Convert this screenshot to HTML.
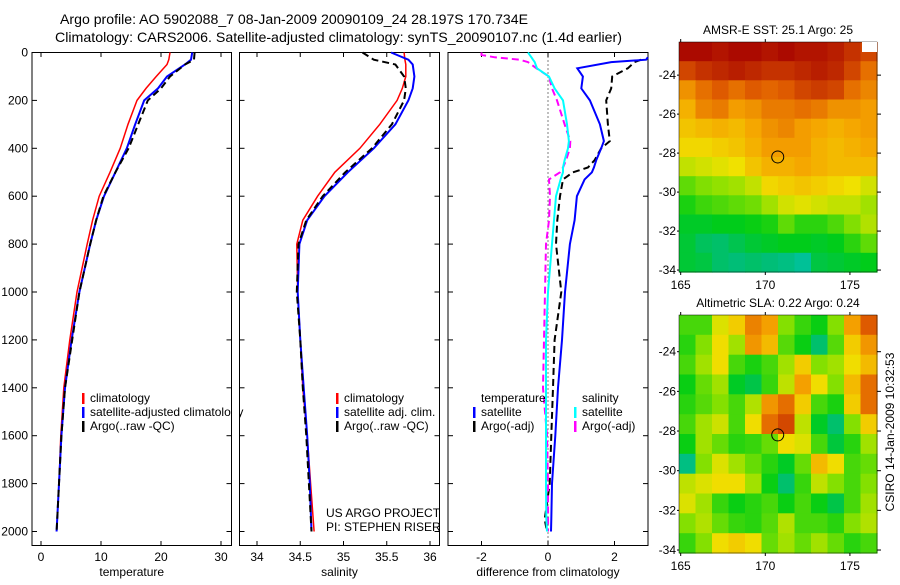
<!DOCTYPE html>
<html><head><meta charset="utf-8"><style>
body{margin:0;background:#fff;}
svg text{font-family:"Liberation Sans",sans-serif;fill:#000;}
</style></head><body>
<svg id="c" width="900" height="580" xmlns="http://www.w3.org/2000/svg">
<text x="60" y="24" font-size="13.5" textLength="468" lengthAdjust="spacingAndGlyphs">Argo profile: AO 5902088_7 08-Jan-2009 20090109_24 28.197S 170.734E</text>
<text x="55" y="42" font-size="14" textLength="567" lengthAdjust="spacingAndGlyphs">Climatology: CARS2006. Satellite-adjusted climatology: synTS_20090107.nc (1.4d earlier)</text>
</svg>
<script>
// ---- profile data ----
const tDepth = [0,30,50,100,150,200,300,400,500,600,700,800,1000,1200,1400,1600,1800,2000];
const tClim  = [21.5,21.3,21,19.2,17.5,16,14.5,13.2,11.5,9.7,8.6,7.7,6,4.8,3.8,3.3,3.0,2.6];
const tSat   = [25.2,25,24,21,19.5,17.2,15.7,14.3,12.4,10.5,9.2,8.2,6.4,5.1,4.0,3.4,3.0,2.6];
const tArgo  = [25.6,25.5,24,21.5,20,17.8,16.2,14.6,12.4,10.4,9.2,8.2,6.4,5.2,4.0,3.4,3.0,2.6];
const sClim  = [35.70,35.71,35.72,35.72,35.68,35.62,35.42,35.19,34.9,34.7,34.53,34.46,34.47,34.5,34.53,34.58,34.62,34.66];
const sSat   = [35.55,35.75,35.8,35.82,35.8,35.75,35.6,35.35,35.05,34.78,34.58,34.49,34.47,34.5,34.54,34.58,34.61,34.63];
const sArgo  = [35.22,35.35,35.6,35.7,35.72,35.7,35.56,35.33,35.02,34.76,34.57,34.48,34.46,34.5,34.53,34.57,34.6,34.63];
const dDepth = [0,10,20,30,40,66,100,150,200,300,370,400,450,480,500,530,600,700,800,1000,1200,1400,1600,1800,1950,2000];
const dTSat  = [null,null,3.0,2.95,1.9,0.88,1.05,1.0,1.26,1.56,1.68,1.6,1.45,1.38,1.32,1.1,0.87,0.8,0.66,0.51,0.42,0.3,0.22,0.12,0.1,0.09];
const dTArgo = [null,null,null,2.8,2.6,2.4,1.93,1.9,1.75,1.8,1.86,1.6,1.4,1.2,0.75,0.45,0.36,0.28,0.24,0.4,0.2,0.15,0.1,0.05,-0.1,-0.03];
const dSSat  = [-0.6,-0.55,-0.5,-0.45,-0.4,-0.33,0.03,0.2,0.45,0.57,0.63,0.6,0.5,0.45,0.45,0.38,0.24,0.18,0.12,0.0,-0.06,-0.06,-0.06,-0.06,-0.05,-0.03];
const dSArgo = [-2,-2,-1.6,-0.85,-0.6,-0.35,0.03,0.12,0.27,0.5,0.67,0.66,0.54,0.45,0.36,0.03,0.06,0.03,-0.06,-0.09,-0.12,-0.15,-0.03,0.0,0.0,0.0];
const depthTicks = [0,200,400,600,800,1000,1200,1400,1600,1800,2000];
const tempTicks = [0,10,20,30];
const salTicks = [34,34.5,35,35.5,36];
const diffTicks = [-2,0,2];
// ---- map data (rows lat 22.3->34.1, cols lon 165->176.6) ----
const sstGrid = [
[26.6,26.6,26.5,26.6,26.6,26.5,26.6,26.5,26.5,26.4,26.2,26.0],
[26.0,26.2,26.3,26.4,26.3,26.2,26.2,26.3,26.4,26.3,26.0,25.6],
[25.3,25.6,25.8,25.6,25.8,25.7,25.8,26.0,26.1,26.0,25.6,25.4],
[25.0,25.4,25.5,25.2,25.3,25.5,25.5,25.6,25.5,25.3,25.3,25.2],
[24.8,24.9,25.0,24.9,25.1,25.3,25.4,25.2,25.1,25.0,25.1,25.2],
[24.6,24.6,24.7,24.8,25.0,25.2,25.2,25.2,25.0,24.9,25.0,25.1],
[24.2,24.3,24.4,24.5,24.8,25.0,25.0,25.1,25.0,24.9,24.9,24.9],
[23.6,23.8,23.9,24.0,24.2,24.6,24.7,24.8,24.7,24.6,24.5,24.3],
[23.2,23.4,23.5,23.6,23.7,24.0,24.3,24.4,24.3,24.2,24.2,24.0],
[22.9,22.9,23.0,23.0,23.1,23.2,23.6,23.3,23.3,23.5,23.8,24.1],
[22.8,22.5,22.4,22.6,22.8,22.9,23.0,23.0,22.9,23.0,23.3,23.6],
[22.8,22.7,22.4,22.3,22.4,22.3,22.2,22.0,22.7,22.8,22.9,23.0]];
const slaGrid = [
[0.06,0.06,0.16,0.20,0.28,0.25,0.10,0.05,0.02,0.10,0.25,0.32],
[0.04,0.10,0.18,0.12,0.26,0.22,0.07,0.02,-0.06,0.07,0.20,0.26],
[0.06,0.12,0.18,0.06,0.03,0.06,0.12,0.20,0.10,0.12,0.18,0.22],
[0.02,0.08,0.12,0.00,-0.03,0.05,0.14,0.25,0.18,0.10,0.22,0.30],
[0.04,0.07,0.10,0.06,0.13,0.26,0.30,0.20,0.06,0.03,0.20,0.30],
[0.06,0.12,0.15,0.06,0.18,0.30,0.34,0.14,0.00,-0.06,0.10,0.20],
[0.02,0.12,0.08,0.04,0.05,0.08,0.18,0.16,0.06,-0.02,0.04,0.12],
[-0.08,0.10,0.16,0.12,0.08,0.04,0.00,0.08,0.22,0.18,0.06,0.08],
[0.14,0.16,0.18,0.18,0.12,0.02,-0.06,0.05,0.14,0.10,0.06,0.10],
[0.16,0.12,0.05,0.02,0.04,0.06,0.02,0.06,0.02,-0.03,0.06,0.12],
[0.10,0.13,0.08,0.05,0.04,0.07,0.13,0.06,0.06,0.04,0.10,0.13],
[0.05,0.10,0.18,0.20,0.18,0.08,0.12,0.08,0.12,0.08,0.04,0.06]];
const latTicks = [24,26,28,30,32,34];
const lonTicks = [165,170,175];
const argoLon = 170.734, argoLat = 28.197;

const NS="http://www.w3.org/2000/svg", svg=document.getElementById('c');
function el(tag,attrs,parent){const e=document.createElementNS(NS,tag);for(const k in attrs)e.setAttribute(k,attrs[k]);(parent||svg).appendChild(e);return e;}
function lin(d0,d1,r0,r1){return v=>r0+(v-d0)*(r1-r0)/(d1-d0);}
const yD = lin(0,2000,52.5,531.5);

function panel(name,x0,x1,xs,ticks,label,showY){
  const g=el('g',{});
  
  
  const fr=el('rect',{x:x0,y:52.5,width:x1-x0,height:493,fill:'none',stroke:'#000','stroke-width':1},g);
  
  
  ticks.forEach(t=>{const x=xs(t);
    el('line',{x1:x,x2:x,y1:52.5,y2:57,stroke:'#000'},g);
    el('line',{x1:x,x2:x,y1:545.5,y2:541,stroke:'#000'},g);
    const tx=el('text',{x:x,y:561,'font-size':12,'text-anchor':'middle'},g);tx.textContent=t;
    
    
  });
  depthTicks.forEach(d=>{const y=yD(d);
    el('line',{x1:x0,x2:x0+5,y1:y,y2:y,stroke:'#000'},g);
    el('line',{x1:x1,x2:x1-5,y1:y,y2:y,stroke:'#000'},g);
    if(showY){const tx=el('text',{x:x0-4,y:y+4,'font-size':12,'text-anchor':'end'},g);tx.textContent=d;
      
      }
  });
  const xl=el('text',{x:(x0+x1)/2,y:576,'font-size':12,'text-anchor':'middle'},g);xl.textContent=label;
  
  
  return g;
}
function series(name,vals,depths,xs,color,w,dash){
  let d='',pen=false;
  vals.forEach((v,i)=>{if(v===null){pen=false;return;}d+=(pen?'L':'M')+xs(v).toFixed(1)+','+yD(depths[i]).toFixed(1);pen=true;});
  const p=el('path',{d:d,fill:'none',stroke:color,'stroke-width':w,'stroke-dasharray':dash||'none'});
  
  
}
function legend(name,x,y,color,text){
  const r=el('rect',{x:x,y:y-9,width:2.5,height:11,fill:color});
  
  
  const t=el('text',{x:x+8,y:y,'font-size':12});t.textContent=text;
  
  
}
function txt(name,x,y,s,fs,extra){const t=el('text',Object.assign({x:x,y:y,'font-size':fs||12},extra||{}));t.textContent=s;
  
  return t;}

// Panel 1 temperature
const xT=lin(0,10,41,101);
panel('temperature',32,231.5,xT,tempTicks,'temperature',true);
series('temp-climatology-line',tClim,tDepth,xT,'#f00',1.5);
series('temp-satellite-line',tSat,tDepth,xT,'#00f',2);
series('temp-argo-line',tArgo,tDepth,xT,'#000',2,'7,4');
legend('legend-climatology',82,402,'#f00','climatology');
legend('legend-satellite-adjusted',82,416,'#00f','satellite-adjusted climatology');
legend('legend-argo-raw',82,430,'#000','Argo(..raw -QC)');

// Panel 2 salinity
const xS=lin(34,36,257,430);
panel('salinity',239.5,439.5,xS,salTicks,'salinity',false);
el('rect',{x:232,y:405,width:7,height:15,fill:'#fff'});
series('sal-climatology-line',sClim,tDepth,xS,'#f00',1.5);
series('sal-satellite-line',sSat,tDepth,xS,'#00f',2);
series('sal-argo-line',sArgo,tDepth,xS,'#000',2,'7,4');
legend('legend-sal-climatology',336,402,'#f00','climatology');
legend('legend-sal-satellite',336,416,'#00f','satellite adj. clim.');
legend('legend-sal-argo',336,430,'#000','Argo(..raw -QC)');
txt('project-label',326,517,'US ARGO PROJECT');
txt('pi-label',326,531,'PI: STEPHEN RISER');

// Panel 3 difference
const xDf=lin(-2,2,481.5,614.5);
panel('difference',448,648,xDf,diffTicks,'difference from climatology',false);
const zl=el('line',{x1:xDf(0),x2:xDf(0),y1:52.5,y2:545,stroke:'#000','stroke-dasharray':'1,3'});


series('diff-temp-argo-line',dTArgo,dDepth,xDf,'#000',2,'7,4');
series('diff-temp-satellite-line',dTSat,dDepth,xDf,'#00f',2);
series('diff-sal-argo-line',dSArgo,dDepth,xDf,'#f0f',2,'7,4');
series('diff-sal-satellite-line',dSSat,dDepth,xDf,'#0ff',2);
txt('legend-temperature-header',481,402,'temperature');
txt('legend-salinity-header',582,402,'salinity');
legend('legend-diff-temp-satellite',473,416,'#00f','satellite');
legend('legend-diff-temp-argo',473,430,'#000','Argo(-adj)');
legend('legend-diff-sal-satellite',574,416,'#0ff','satellite');
legend('legend-diff-sal-argo',574,430,'#f0f','Argo(-adj)');

// colormap (t in 0..1)
const cmapStops=[[0,[0,80,255]],[0.15,[0,200,220]],[0.3,[0,190,120]],[0.42,[0,205,20]],[0.55,[140,225,0]],[0.65,[240,225,0]],[0.75,[245,165,0]],[0.85,[225,95,0]],[1,[165,0,0]]];
function cmap(t){t=Math.max(0,Math.min(1,t));
  for(let i=1;i<cmapStops.length;i++){if(t<=cmapStops[i][0]){const a=cmapStops[i-1],b=cmapStops[i],f=(t-a[0])/(b[0]-a[0]);
    return 'rgb('+a[1].map((c,k)=>Math.round(c+(b[1][k]-c)*f)).join(',')+')';}}
  return 'rgb(165,0,0)';}

function map(name,grid,vmin,vmax,x0,x1,y0,y1,lat0,lat1,title){
  const xs=lin(164.9,176.6,x0,x1), ys=lin(lat0,lat1,y0,y1);
  const rows=grid.length, cols=grid[0].length;
  const dLat=(lat1-lat0)/rows, dLon=(176.6-164.9)/cols;
  grid.forEach((row,i)=>row.forEach((v,j)=>{
    const xa=xs(164.9+j*dLon), ya=ys(lat0+i*dLat);
    const c=el('rect',{x:xa.toFixed(1),y:ya.toFixed(1),width:(xs(164.9+(j+1)*dLon)-xa+0.6).toFixed(1),height:(ys(lat0+(i+1)*dLat)-ya+0.6).toFixed(1),fill:cmap((v-vmin)/(vmax-vmin))});
    
    
  }));
  const fr=el('rect',{x:x0,y:y0,width:x1-x0,height:y1-y0,fill:'none',stroke:'#000','stroke-width':0.5});
  
  
  latTicks.forEach(l=>{const y=ys(l);
    el('line',{x1:x1,x2:x1+4,y1:y,y2:y,stroke:'#000'});
    el('line',{x1:x0,x2:x0-2,y1:y,y2:y,stroke:'#000'});
    txt(name+'-lat-tick-label',x0-3,y+4,'-'+l,12,{'text-anchor':'end'});});
  lonTicks.forEach(l=>{const x=xs(l);
    el('line',{x1:x,x2:x,y1:y0,y2:y0-3,stroke:'#000'});
    el('line',{x1:x,x2:x,y1:y1,y2:y1+3,stroke:'#000'});
    txt(name+'-lon-tick-label',x,y1+17,l,12,{'text-anchor':'middle'});});
  const m=el('circle',{cx:xs(argoLon),cy:ys(argoLat),r:6,fill:'none',stroke:'#000','stroke-width':1});
  
  
  txt(name+'-title',(x0+x1)/2,y0-8,title,12,{'text-anchor':'middle'});
}
map('sst-map',sstGrid,20.4,26.7,679,877,42,272,22.3,34.1,'AMSR-E SST: 25.1 Argo: 25');
const wp=el('rect',{x:862,y:42,width:15,height:10,fill:'#fff'});


map('sla-map',slaGrid,-0.28,0.42,679,877,315,553,22.15,34.15,'Altimetric SLA: 0.22 Argo: 0.24');
txt('csiro-timestamp',0,0,'CSIRO 14-Jan-2009 10:32:53',12,{transform:'translate(894,432) rotate(-90)','text-anchor':'middle'});
</script>
</body></html>
